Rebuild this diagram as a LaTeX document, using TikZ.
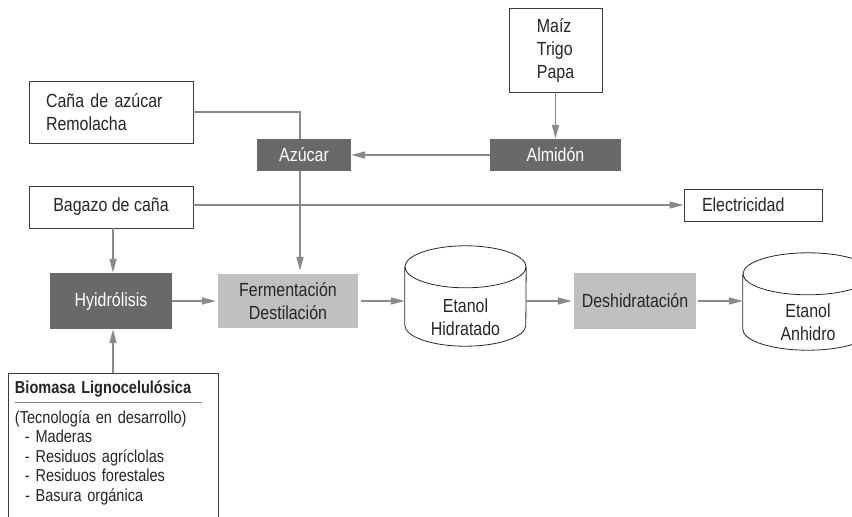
\documentclass[tikz,border=0pt]{standalone}
\usepackage{fontspec}
\setmainfont[FakeStretch=0.84]{Liberation Sans}
\usetikzlibrary{arrows.meta}
\definecolor{procdark}{HTML}{696969}
\definecolor{proclight}{HTML}{C0C0C0}
\definecolor{flowgray}{HTML}{8A8A8A}
\definecolor{edgegray}{HTML}{3C3C3C}
\begin{document}
\begin{tikzpicture}[x=1pt,y=-1pt,
  font=\fontsize{19}{23}\selectfont,
  srcbox/.style={draw=edgegray,line width=0.9pt,fill=white,align=left,text=black!85},
  darkbox/.style={fill=procdark,text=white,inner sep=0pt},
  lightbox/.style={fill=proclight,text=black!85,inner sep=0pt,align=center},
  tank/.style={inner sep=0pt,align=center,text=black!85},
  tankline/.style={draw=black!85,line width=0.8pt},
  link/.style={draw=flowgray,line width=1.5pt},
  flow/.style={link,-{Triangle[length=14pt,width=7pt]},fill=flowgray}]
\clip (0,0) rectangle (852,517);

\node[srcbox,minimum width=164pt,minimum height=62pt,text width=130pt,inner xsep=17pt] (cana) at (111,112) {Caña de azúcar\\Remolacha};
\node[srcbox,minimum width=93pt,minimum height=84pt] (maiz) at (555.5,50) {Maíz\\Trigo\\Papa};
\node[darkbox,minimum width=94pt,minimum height=32pt] (azucar) at (304,155) {Azúcar};
\node[darkbox,minimum width=131pt,minimum height=32pt] (almidon) at (555.5,155) {Almidón};
\node[srcbox,minimum width=164pt,minimum height=42pt] (bagazo) at (111,207) {Bagazo de caña};
\node[srcbox,minimum width=138pt,minimum height=32pt,text width=102pt,inner xsep=18pt] (elec) at (753,205) {Electricidad};
\node[darkbox,minimum width=122pt,minimum height=56pt] (hidro) at (111,301) {Hyidrólisis};
\node[lightbox,minimum width=140pt,minimum height=54pt] (ferm) at (288,301) {Fermentación\\Destilación};
\node[tank,minimum width=121pt,minimum height=58pt] (hidratado) at (465.5,317) {Etanol\\Hidratado};
\node[lightbox,minimum width=122pt,minimum height=56pt] (deshid) at (635,301) {Deshidratación};
\node[tank,minimum width=130pt,minimum height=55pt] (anhidro) at (808,322.5) {Etanol\\Anhidro};
\node[srcbox,anchor=north,minimum width=210pt,text width=196pt,inner xsep=7pt,inner ysep=7pt,font=\fontsize{17.3}{19.5}\selectfont] (biomasa) at (113,373)
  {\textbf{Biomasa Lignocelulósica}\\[10.5pt](Tecnología en desarrollo)\\\hspace*{10pt}- Maderas\\\hspace*{10pt}- Residuos agríclolas\\\hspace*{10pt}- Residuos forestales\\\hspace*{10pt}- Basura orgánica\\[20pt]\mbox{}};
\draw[flowgray,line width=0.9pt] ([xshift=7pt,yshift=-29pt]biomasa.north west) -- ([xshift=-16pt,yshift=-29pt]biomasa.north east);

\foreach \t/\rx in {hidratado/60.5,anhidro/65}{
\draw[tankline] ([yshift=21pt]\t.north) ellipse [x radius=\rx pt,y radius=21pt]
  ([yshift=21pt]\t.north west) -- ([yshift=21pt]\t.south west)
  arc [start angle=180,end angle=360,x radius=\rx pt,y radius=21pt] -- ([yshift=21pt]\t.north east);
}

\draw[link] (cana.east) -| ([xshift=-4pt]azucar.north);
\draw[flow] ([xshift=-4pt]azucar.south) -- ([xshift=-4pt,yshift=3pt]azucar.south |- ferm.north);
\draw[flow] (almidon.west) -- (azucar.east);
\draw[flow] (maiz.south) -- (almidon.north);
\draw[flow] (bagazo.east |- elec.west) -- (elec.west);
\draw[flow] ([xshift=2pt]bagazo.south) -- ([xshift=2pt]hidro.north);
\draw[flow] (biomasa.north) -- (biomasa.north |- hidro.south);
\draw[flow] (hidro.east) -- ([xshift=-2pt]ferm.west);
\draw[flow,shorten <=3pt] (ferm.east) -- (ferm.east -| hidratado.west);
\draw[flow] (deshid.west -| hidratado.east) -- ([xshift=-2pt]deshid.west);
\draw[flow,shorten <=2pt] (deshid.east) -- (deshid.east -| anhidro.west);
\end{tikzpicture}
\end{document}
